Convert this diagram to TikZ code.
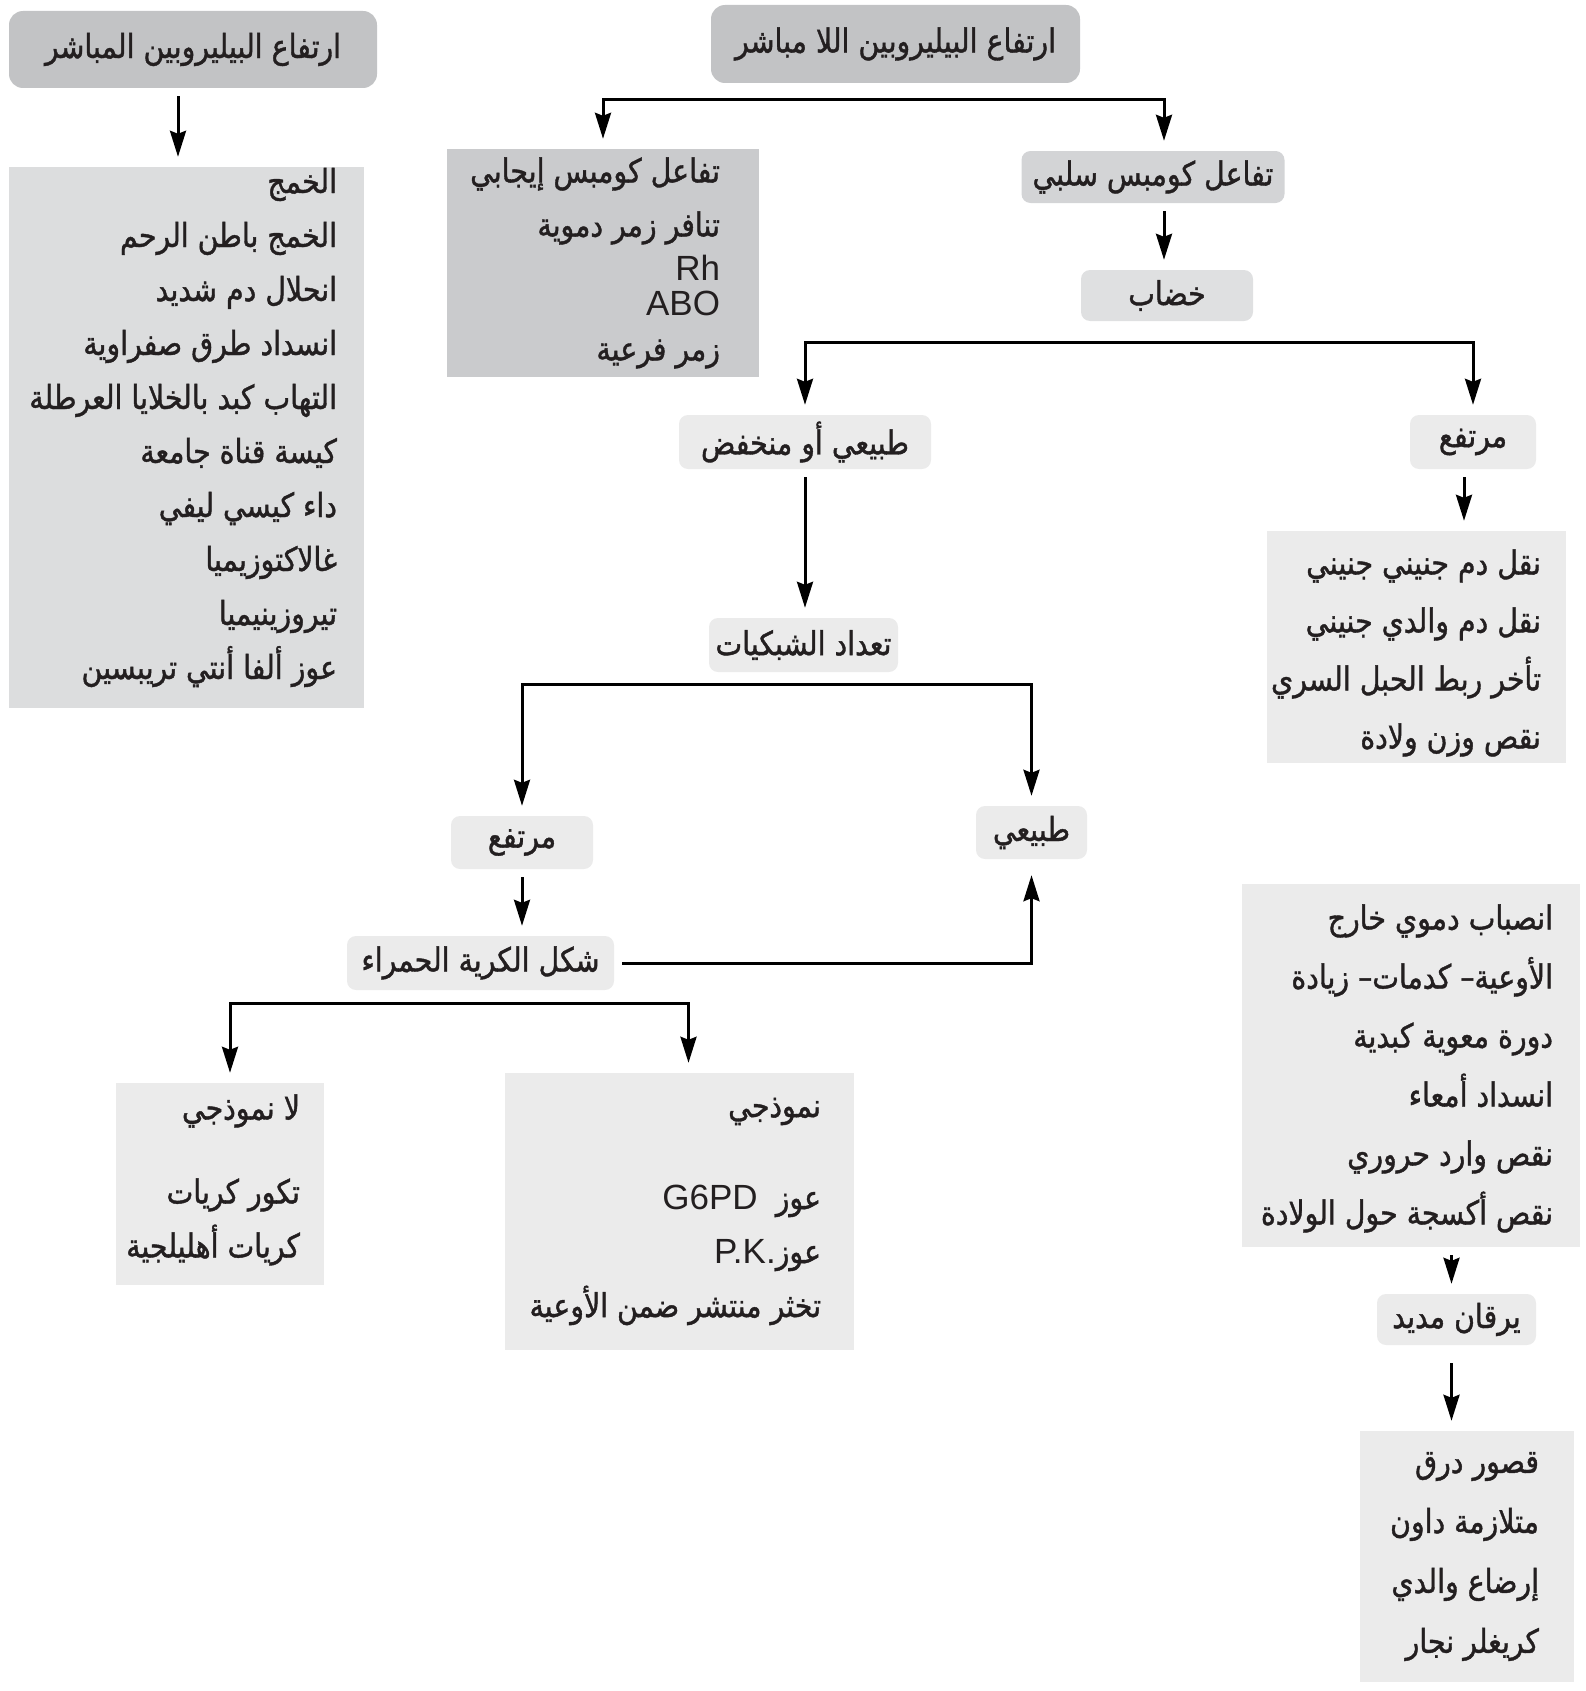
\documentclass[tikz,border=0pt]{standalone}
\usepackage{fontspec}
\usetikzlibrary{arrows.meta}
\newfontfamily\arabicfont[Script=Arabic, FakeStretch=0.86, FakeBold=1.2]{DejaVu Sans}
\newfontfamily\latinfont{Liberation Sans}
\TeXXeTstate=1
\definecolor{ink}{HTML}{231F20}
\definecolor{boxdark}{HTML}{C2C3C5}
\definecolor{boxpos}{HTML}{CACBCD}
\definecolor{boxneg}{HTML}{D3D4D6}
\definecolor{boxmid}{HTML}{DCDDDE}
\definecolor{boxkh}{HTML}{DFE0E1}
\definecolor{boxlight}{HTML}{EBEBEB}
\newcommand{\arline}[1]{\beginR #1\endR}

\begin{document}
\begin{tikzpicture}[x=1pt, y=-1pt,
    every node/.style={text=ink},
    txt/.style={font=\arabicfont\fontsize{33}{54}\selectfont},
    darkbox/.style={txt, rounded corners=14pt, fill=boxdark, inner sep=0pt},
    tagbox/.style={txt, rounded corners=9pt, fill=boxlight, inner sep=0pt},
    listbox/.style={fill=boxlight, inner sep=0pt},
    listtext/.style={txt, align=right, inner sep=0pt, anchor=east},
    tip/.style={line width=3pt, arrows={-Stealth[length=26pt, width=16pt, inset=3pt]}},
    arrow/.style={tip, shorten >=10pt},
    link/.style={arrow, shorten <=8pt},
    fork/.style={line width=3pt, arrows={Stealth[length=26pt, width=16pt, inset=3pt]-Stealth[length=26pt, width=16pt, inset=3pt]}, shorten >=10pt, shorten <=10pt},
]
\useasboundingbox (0,0) rectangle (1586,1691);

% Direct bilirubin branch
\node[darkbox, minimum width=368pt, minimum height=77pt] (direct) at (193,49.5) {\arline{ارتفاع البيليروبين المباشر}};
\node[listbox, fill=boxmid, minimum width=355pt, minimum height=541pt] (dirbox) at (186.5,437.5) {};
\node[listtext] (dirtext) at ([xshift=-27pt, yshift=10pt]dirbox.east) {%
  \arline{الخمج}\\
  \arline{الخمج باطن الرحم}\\
  \arline{انحلال دم شديد}\\
  \arline{انسداد طرق صفراوية}\\
  \arline{التهاب كبد بالخلايا العرطلة}\\
  \arline{كيسة قناة جامعة}\\
  \arline{داء كيسي ليفي}\\
  \arline{غالاكتوزيميا}\\
  \arline{تيروزينيميا}\\
  \arline{عوز ألفا أنتي تريبسين}};

% Indirect bilirubin and Coombs test
\node[darkbox, minimum width=369pt, minimum height=78pt] (indirect) at (895.5,44) {\arline{ارتفاع البيليروبين اللا مباشر}};
\node[listbox, fill=boxpos, minimum width=312pt, minimum height=228pt] (posbox) at (603,263) {};
\node[listtext] (postext) at ([xshift=-39pt]posbox.east) {%
  \arline{تفاعل كومبس إيجابي}\\
  \arline{تنافر زمر دموية}\\[-10pt]
  {\latinfont\fontsize{35}{54}\selectfont Rh}\\[-19pt]
  {\latinfont\fontsize{35}{54}\selectfont ABO}\\[-9pt]
  \arline{زمر فرعية}};
\node[tagbox, fill=boxneg, minimum width=263pt, minimum height=52pt] (coombsneg) at (1153,177) {\arline{تفاعل كومبس سلبي}};
\node[tagbox, fill=boxkh, minimum width=172pt, minimum height=51pt] (khidab) at (1167,295.5) {\arline{خضاب}};

% Hemoglobin level
\node[tagbox, minimum width=252pt, minimum height=54pt] (normlow) at (805,442) {\arline{طبيعي أو منخفض}};
\node[tagbox, minimum width=126pt, minimum height=54pt] (highr) at (1473,442) {\arline{مرتفع}};
\node[listbox, minimum width=299pt, minimum height=232pt] (transbox) at (1416.5,647) {};
\node[listtext] (transtext) at ([xshift=-25pt, yshift=-6pt]transbox.east) {%
  \arline{نقل دم جنيني جنيني}\\[4pt]
  \arline{نقل دم والدي جنيني}\\[4pt]
  \arline{تأخر ربط الحبل السري}\\[4pt]
  \arline{نقص وزن ولادة}};

% Reticulocytes
\node[tagbox, minimum width=189pt, minimum height=54pt] (tadad) at (803.5,645) {\arline{تعداد الشبكيات}};
\node[tagbox, minimum width=142pt, minimum height=53pt] (high) at (522,842.5) {\arline{مرتفع}};
\node[tagbox, minimum width=111pt, minimum height=53pt] (normal) at (1031.5,832.5) {\arline{طبيعي}};
\node[tagbox, minimum width=267pt, minimum height=54pt] (shape) at (480.5,963) {\arline{شكل الكرية الحمراء}};

% Red cell shape
\node[listbox, minimum width=208pt, minimum height=202pt] (atypbox) at (220,1184) {};
\node[listtext] (atyptext) at ([xshift=-24pt, yshift=4pt]atypbox.east) {%
  \arline{لا نموذجي}\\[30pt]
  \arline{تكور كريات}\\
  \arline{كريات أهليلجية}};
\node[listbox, minimum width=349pt, minimum height=277pt] (typbox) at (679.5,1211.5) {};
\node[listtext] (typtext) at ([xshift=-33pt]typbox.east) {%
  \arline{نموذجي}\\[38pt]
  \arline{عوز\hspace{18pt}\beginL{\latinfont\fontsize{35}{54}\selectfont G6PD}\endL}\\
  \arline{عوز\beginL{\latinfont\fontsize{35}{54}\selectfont P.K.}\endL}\\
  \arline{تخثر منتشر ضمن الأوعية}};

% Prolonged jaundice
\node[listbox, minimum width=338pt, minimum height=363pt] (bleedbox) at (1411,1065.5) {};
\node[listtext] (bleedtext) at ([xshift=-27pt, yshift=-3pt]bleedbox.east) {%
  \arline{انصباب دموي خارج}\\[5pt]
  \arline{الأوعية– كدمات– زيادة}\\[5pt]
  \arline{دورة معوية كبدية}\\[5pt]
  \arline{انسداد أمعاء}\\[5pt]
  \arline{نقص وارد حروري}\\[5pt]
  \arline{نقص أكسجة حول الولادة}};
\node[tagbox, minimum width=159pt, minimum height=51pt] (jaund) at (1456.5,1319.5) {\arline{يرقان مديد}};
\node[listbox, minimum width=214pt, minimum height=251pt] (prolbox) at (1467,1556.5) {};
\node[listtext] (proltext) at ([xshift=-35pt]prolbox.east) {%
  \arline{قصور درق}\\[6pt]
  \arline{متلازمة داون}\\[6pt]
  \arline{إرضاع والدي}\\[6pt]
  \arline{كريغلر نجار}};

% Forks
\coordinate (k1) at (880,100);
\coordinate (k2) at (1100,342);
\coordinate (k3) at (780,684);
\coordinate (k4) at (460,1003);
\draw[fork] (posbox.north) |- (k1) -| ([xshift=11pt]coombsneg.north);
\draw[fork] (normlow.north) |- (k2) -| (highr.north);
\draw[fork] (high.north) |- (k3) -| (normal.north);
\draw[fork] ([xshift=10pt]atypbox.north) |- (k4) -| ([xshift=9pt]typbox.north);

% Single arrows
\draw[link] ([xshift=-15pt]direct.south) -- ([xshift=-15pt]direct.south |- dirbox.north);
\draw[link] ([xshift=11pt]coombsneg.south) -- ([xshift=11pt]coombsneg.south |- khidab.north);
\draw[link] (normlow.south) -- (normlow.south |- tadad.north);
\draw[link] ([xshift=-9pt]highr.south) -- ([xshift=-9pt]highr.south |- transbox.north);
\draw[link] (high.south) -- (high.south |- shape.north);
\draw[link, shorten >=16pt] (shape.east) -| (normal.south);
\draw[link] ([xshift=-5pt]jaund.north |- bleedbox.south) -- ([xshift=-5pt]jaund.north);
\draw[link, shorten <=18pt] ([xshift=-5pt]jaund.south) -- ([xshift=-5pt]jaund.south |- prolbox.north);

\end{tikzpicture}
\end{document}
